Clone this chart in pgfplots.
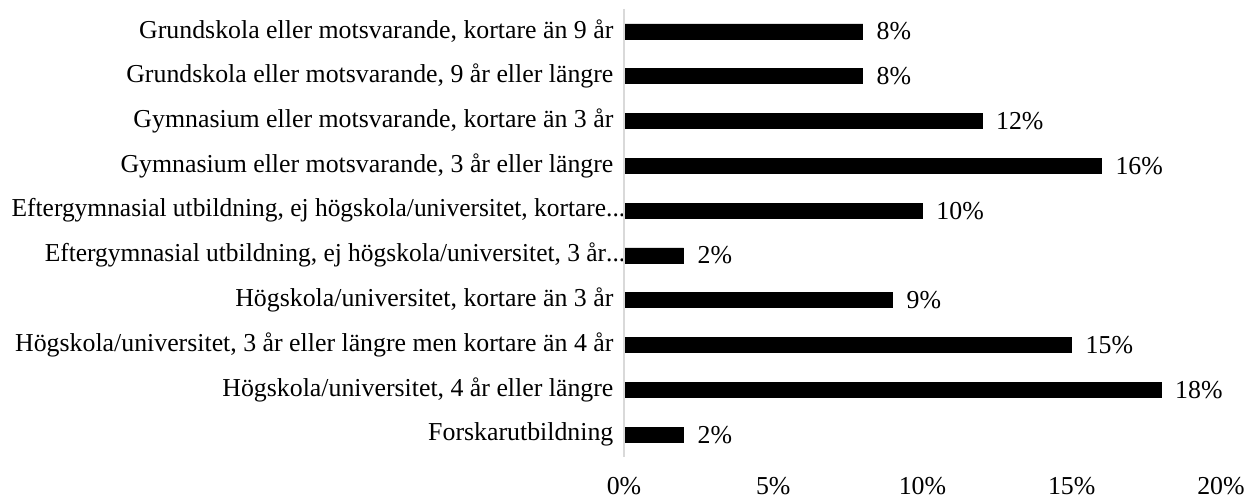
\documentclass[border=0pt]{standalone}
\usepackage{fontspec}
\setmainfont{Liberation Serif}
\usepackage{graphicx}
\usepackage{pgfplots}
\pgfplotsset{compat=1.18}
\newcommand{\trunc}{\makebox[4.4pt][l]{...}}
\newcommand{\sq}[1]{\scalebox{0.985}[1]{#1}}
\begin{document}
\fontsize{15.5}{18}\selectfont
\begin{tikzpicture}[x=1pt,y=1pt]
\useasboundingbox (0,0) rectangle (747.6,298.8);
\begin{axis}[
  at={(374.4pt,24.6pt)}, anchor=south west,
  scale only axis, width=358.2pt, height=268.8pt,
  xbar, bar width=9pt,
  xmin=0, xmax=20, ymin=0.5, ymax=10.5,
  y dir=reverse,
  axis line style={draw=none},
  xtick={0,5,10,15,20},
  xticklabel={\pgfmathprintnumber{\tick}\%},
  xticklabel style={yshift=-7pt},
  ytick={1,2,3,4,5,6,7,8,9,10},
  yticklabels={
    {Grundskola eller motsvarande, kortare än 9 år},
    {Grundskola eller motsvarande, 9 år eller längre},
    {Gymnasium eller motsvarande, kortare än 3 år},
    {Gymnasium eller motsvarande, 3 år eller längre},
    {\sq{Eftergymnasial utbildning, ej högskola/universitet, kortare\trunc}},
    {\sq{Eftergymnasial utbildning, ej högskola/universitet, 3 år\trunc}},
    {Högskola/universitet, kortare än 3 år},
    {Högskola/universitet, 3 år eller längre men kortare än 4 år},
    {Högskola/universitet, 4 år eller längre},
    {Forskarutbildning}},
  yticklabel style={xshift=-1pt},
  major tick length=0pt,
  /pgf/number format/assume math mode=true,
  tick label style={font=\fontsize{15.5}{18}\selectfont},
  nodes near coords={\pgfmathprintnumber[fixed,precision=0]{\pgfplotspointmeta}\%},
  nodes near coords style={font=\fontsize{15.5}{18}\selectfont, anchor=west, xshift=3pt, text=black},
  clip=false,
]
\addplot[fill=black, draw=black] coordinates {
  (8,1) (8,2) (12,3) (16,4) (10,5) (2,6) (9,7) (15,8) (18,9) (2,10)
};
\draw[color=black!15, line width=1pt] (axis cs:0,0.5) -- (axis cs:0,10.5);
\end{axis}
\end{tikzpicture}
\end{document}
